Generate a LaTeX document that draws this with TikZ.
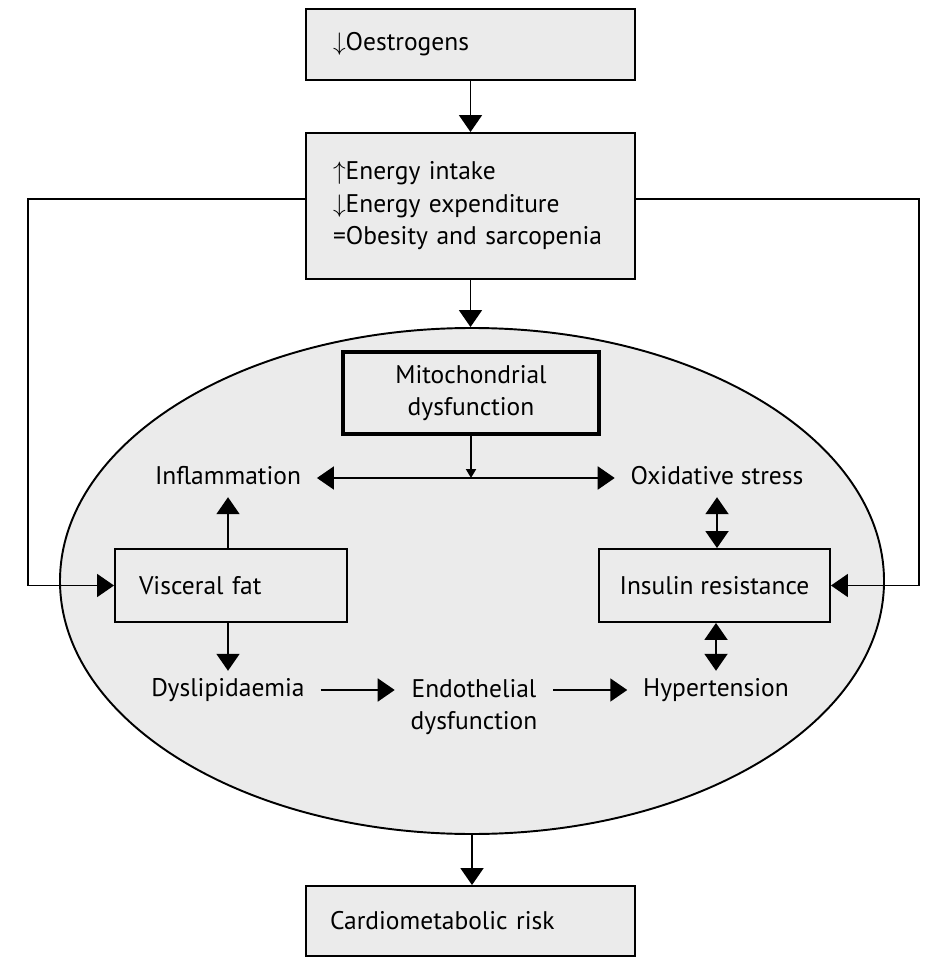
\documentclass[tikz,border=0pt]{standalone}
\usepackage{fontspec}
\setmainfont{PT Sans}
\usetikzlibrary{shapes.geometric, arrows.meta, positioning, calc}
\definecolor{boxgray}{HTML}{EBEBEB}

\begin{document}
\begin{tikzpicture}[font=\fontsize{14.5}{18.5}\selectfont, line width=1.1pt,
  >={Triangle[width=0.46cm, length=0.34cm]},
  box/.style={draw, fill=boxgray, inner ysep=0pt},
  lbl/.style={inner xsep=0.3cm, inner ysep=0.14cm, text height=0.35cm, text depth=0.1cm}]
  \useasboundingbox (0,0) rectangle (18.48,-19.18);

  % the large ellipse
  \node[draw, fill=boxgray, ellipse, inner sep=0pt, minimum width=16.48cm,
        minimum height=10.12cm] (body) at (9.44,-11.62) {};

  \node[box, minimum width=6.58cm, minimum height=1.42cm, inner xsep=0.54cm,
        text width=5.5cm, align=left] (oestrogen) at (9.41,-0.89) {$\downarrow$Oestrogens};
  \node[box, minimum width=6.58cm, minimum height=2.92cm, inner xsep=0.54cm,
        text width=5.5cm, align=left] (energy) at (9.41,-4.12)
        {$\uparrow$Energy intake\\ $\downarrow$Energy expenditure\\ =Obesity and sarcopenia};
  \node[box, minimum width=6.58cm, minimum height=1.4cm, inner xsep=0.48cm,
        text width=5.62cm, align=left] (cardio) at (9.41,-18.42) {Cardiometabolic risk};

  \node[draw, line width=1.8pt, minimum width=5.12cm, minimum height=1.64cm,
        align=center] (mito) at (9.42,-7.86) {Mitochondrial\\dysfunction};
  \node[box, minimum width=4.64cm, minimum height=1.46cm, inner xsep=0.48cm,
        text width=3.68cm, align=left] (visceral) at (4.62,-11.71) {Visceral fat};
  \node[box, minimum width=4.62cm, minimum height=1.46cm] (insulin) at (14.29,-11.71) {Insulin resistance};

  \node[lbl] (infl) at (4.56,-9.56) {Inflammation};
  \node[lbl] (oxid) at (14.34,-9.56) {Oxidative stress};
  \node[lbl] (dyslip) at (4.56,-13.8) {Dyslipidaemia};
  \node[lbl] (hyper) at (14.32,-13.8) {Hypertension};
  \node[inner xsep=0.3cm, align=center] (endo) at (9.48,-14.14) {Endothelial\\dysfunction};

  \draw[->] (oestrogen) -- (energy);
  \draw[->] (energy.south) -- (energy.south |- body.north);
  \draw[->] (body.south) -- (body.south |- cardio.north);

  \coordinate (junc) at (mito.south |- infl);
  \draw[-{Triangle[width=0.2cm, length=0.18cm]}] (mito) -- (junc);
  \draw[->] (junc) -- (infl);
  \draw[->] (junc) -- (oxid);

  \draw[->] (visceral.north -| infl) -- (infl.south);
  \draw[->] (visceral.south -| dyslip) -- (dyslip.north);
  \draw[->] (dyslip.east) -- (dyslip.east -| endo.west);
  \draw[->] (hyper.west -| endo.east) -- (hyper.west);
  \draw[<->] (oxid.south) -- (oxid.south |- insulin.north);
  \draw[<->] (insulin.south -| hyper) -- (hyper.north);

  % feedback lines
  \coordinate (lfb) at (0.56,-3.98);
  \coordinate (rfb) at (18.38,-3.98);
  \draw[->] (lfb -| energy.west) -- (lfb) |- (visceral.west);
  \draw[->] (rfb -| energy.east) -- (rfb) |- (insulin.east);
\end{tikzpicture}
\end{document}
